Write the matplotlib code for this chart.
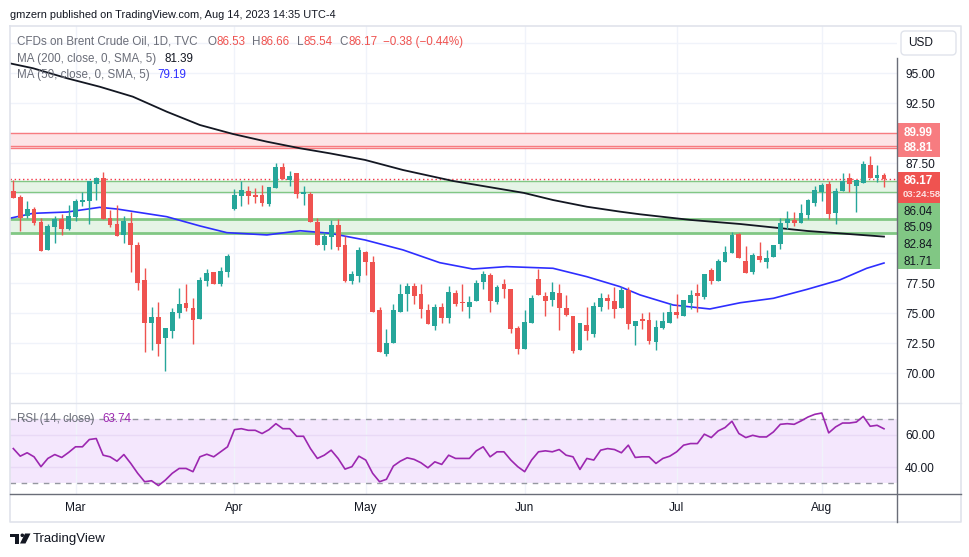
import numpy as np
import matplotlib
matplotlib.use("Agg")
import matplotlib.pyplot as plt
from matplotlib.patches import Rectangle, FancyBboxPatch, Polygon, Circle

plt.rcParams['font.family'] = ['Liberation Sans', 'DejaVu Sans']

W, H = 970, 557

# дневные свечи Brent, 16 фев - 14 авг 2023
opens = [85.17, 84.69, 83.14, 83.67, 82.61, 80.31, 82.22, 82.86, 82.03, 83.06,
         84.31, 84.36, 85.81, 86.25, 82.92, 82.44, 81.56, 82.53, 80.69, 77.75,
         74.22, 74.67, 72.97, 73.56, 75.06, 75.86, 75.44, 74.56, 77.72, 78.44,
         77.47, 78.47, 83.72, 84.81, 85.19, 84.89, 84.86, 84.14, 85.47, 87.19,
         86.14, 86.69, 84.97, 84.92, 82.61, 80.69, 81.39, 82.36, 80.69, 77.69,
         78.14, 80.11, 79.28, 75.28, 71.64, 72.56, 75.08, 76.61, 77.28, 76.61,
         75.28, 73.97, 75.53, 74.61, 76.69, 75.94, 75.53, 76.03, 77.64, 78.19,
         75.94, 77.44, 77.03, 73.78, 72.06, 74.19, 77.86, 76.44, 76.11, 76.69,
         75.44, 74.78, 71.94, 74.03, 73.28, 75.53, 76.28, 76.03, 75.44, 76.94,
         73.94, 74.53, 74.44, 72.64, 73.78, 74.22, 75.11, 74.81, 75.86, 76.69,
         76.36, 78.61, 77.69, 79.28, 80.03, 81.61, 79.36, 78.42, 79.78, 79.28,
         79.69, 80.78, 82.53, 82.78, 82.53, 83.19, 84.19, 85.11, 85.78, 83.36,
         85.19, 86.28, 85.61, 85.86, 87.36, 86.28, 86.53]
highs = [86.14, 84.86, 84.36, 83.83, 82.92, 82.44, 83.11, 83.28, 84.03, 84.53,
         85.08, 86.03, 86.33, 86.78, 83.61, 84.03, 83.11, 83.44, 80.92, 78.78,
         75.53, 75.94, 73.75, 75.42, 77.11, 77.44, 76.25, 78.06, 78.69, 78.44,
         78.86, 79.94, 85.36, 86.06, 85.58, 85.44, 85.69, 85.53, 87.53, 87.53,
         86.86, 86.69, 85.61, 85.14, 82.92, 81.75, 82.81, 82.86, 81.42, 78.56,
         80.50, 80.22, 79.81, 75.53, 73.69, 75.78, 77.44, 77.53, 77.53, 77.44,
         75.78, 75.78, 75.86, 77.28, 76.94, 77.44, 76.44, 77.78, 78.53, 78.36,
         77.36, 77.86, 77.03, 73.94, 75.28, 76.53, 78.69, 76.78, 77.61, 77.44,
         76.53, 74.78, 74.19, 75.53, 75.94, 76.69, 76.61, 77.19, 77.19, 77.19,
         74.36, 75.03, 75.11, 74.44, 75.11, 75.86, 76.61, 76.11, 76.94, 77.44,
         78.28, 78.78, 79.53, 80.61, 81.78, 81.69, 80.61, 80.03, 80.94, 80.28,
         80.69, 82.94, 83.53, 83.44, 84.11, 84.53, 85.61, 85.86, 86.03, 85.44,
         86.69, 86.69, 86.11, 87.69, 88.11, 87.36, 86.66]
lows = [84.64, 81.89, 82.92, 82.39, 80.22, 80.31, 80.89, 81.50, 81.94, 82.72,
        83.97, 82.44, 84.44, 82.86, 82.22, 81.47, 80.86, 78.47, 76.97, 71.81,
        71.94, 71.47, 70.22, 72.97, 74.64, 75.22, 72.47, 74.56, 77.25, 77.47,
        77.31, 78.00, 83.64, 83.97, 84.11, 84.22, 83.97, 83.92, 85.47, 86.22,
        85.64, 84.64, 84.06, 82.61, 80.69, 80.31, 80.36, 80.31, 77.64, 77.44,
        77.64, 78.19, 75.14, 71.81, 71.47, 72.56, 75.08, 75.19, 75.78, 74.61,
        74.11, 73.61, 74.22, 74.19, 75.61, 75.19, 74.61, 76.03, 77.03, 75.11,
        75.78, 76.28, 73.39, 71.64, 72.06, 74.19, 76.53, 74.78, 75.61, 73.61,
        74.78, 71.69, 71.94, 72.78, 73.03, 75.19, 75.36, 74.61, 75.44, 73.69,
        72.36, 73.69, 72.44, 71.97, 73.69, 74.22, 74.64, 74.81, 75.36, 75.11,
        76.19, 77.44, 77.69, 79.28, 80.03, 79.61, 78.33, 78.28, 79.28, 78.78,
        79.69, 80.36, 82.03, 82.28, 82.53, 82.86, 83.94, 84.36, 82.86, 82.44,
        85.19, 85.11, 83.44, 85.86, 86.28, 85.94, 85.54]
closes = [84.64, 82.97, 83.69, 82.56, 80.22, 82.28, 82.89, 82.06, 83.11, 84.36,
          84.44, 86.03, 86.25, 82.86, 82.36, 81.47, 82.69, 80.72, 77.56, 74.22,
          74.67, 72.47, 73.75, 75.11, 75.78, 75.47, 74.47, 77.78, 78.36, 77.47,
          78.53, 79.78, 84.86, 85.28, 84.81, 84.72, 84.22, 85.53, 87.19, 86.22,
          86.44, 84.97, 85.11, 82.61, 80.69, 81.42, 82.36, 80.53, 77.69, 78.28,
          80.28, 79.28, 75.14, 71.81, 72.53, 75.28, 76.61, 77.28, 76.44, 75.36,
          74.11, 75.53, 74.64, 76.78, 75.78, 75.86, 75.94, 77.50, 78.28, 76.03,
          77.19, 77.03, 73.69, 72.06, 74.28, 76.28, 76.53, 76.03, 76.78, 75.44,
          74.86, 71.86, 74.19, 73.53, 75.61, 76.28, 76.03, 75.36, 76.94, 74.11,
          74.36, 74.36, 72.69, 73.83, 74.36, 75.11, 74.89, 76.11, 76.53, 76.44,
          78.28, 77.69, 79.36, 80.11, 81.53, 79.61, 78.39, 79.86, 79.44, 79.61,
          80.69, 82.53, 82.86, 82.53, 83.36, 84.44, 85.28, 85.69, 83.28, 85.19,
          86.03, 85.78, 86.11, 87.44, 86.28, 86.55, 86.17]

rsi = [51.5, 46.8, 48.9, 46.4, 40.3, 45.4, 47.8, 46.0, 49.1, 52.6,
       52.6, 57.1, 57.7, 47.4, 46.4, 43.7, 47.8, 42.3, 36.2, 31.0,
       31.6, 28.6, 32.0, 36.2, 39.2, 39.2, 37.2, 46.4, 48.0, 46.4,
       49.5, 52.6, 63.2, 63.8, 62.8, 62.8, 60.8, 63.2, 66.9, 63.8,
       63.8, 59.1, 59.1, 51.5, 45.4, 47.4, 50.5, 45.4, 38.8, 40.3,
       46.8, 44.4, 36.2, 31.0, 32.5, 40.7, 43.7, 45.8, 44.8, 42.7,
       39.6, 43.3, 41.7, 47.4, 45.4, 45.4, 45.4, 50.1, 52.6, 46.4,
       49.5, 49.5, 44.4, 40.3, 37.2, 44.4, 49.5, 50.1, 49.5, 50.9,
       47.4, 46.4, 38.6, 45.4, 44.4, 50.5, 51.5, 50.9, 48.9, 53.6,
       46.0, 46.4, 46.4, 42.3, 45.4, 46.8, 49.5, 53.6, 54.6, 54.6,
       60.4, 58.3, 62.4, 64.5, 68.4, 60.8, 58.3, 59.7, 58.7, 58.7,
       61.8, 66.5, 66.9, 66.5, 68.6, 71.0, 72.7, 73.5, 61.2, 64.9,
       67.3, 67.3, 67.9, 71.4, 65.3, 65.9, 63.74]

# скользящие средние (позиция свечи, значение)
ma200_pos = [-0.5, 2.85, 7.8, 12.5, 17.3, 22.2, 27, 31.8, 36.7, 41.5, 45.8, 50.9,
             56.4, 63.6, 73.9, 78.1, 83, 87.8, 90.7, 98, 105.2, 114.9, 126]
ma200_val = [95.83, 95.42, 94.58, 93.88, 93.05, 91.8, 90.69, 89.94, 89.3, 88.75, 88.33, 87.78,
             86.94, 86.03, 85.03, 84.44, 83.88, 83.47, 83.25, 82.78, 82.44, 81.86, 81.39]
ma50_pos = [-0.5, 2.85, 7.8, 12.5, 15, 22.2, 27, 30.9, 36.7, 41.5, 45.8, 50.9, 56.4, 61.7,
            66.5, 71.4, 78.1, 83, 87.8, 90.7, 95.5, 100.8, 105.2, 110, 114.9, 119.6, 123.5, 126]
ma50_val = [82.92, 83.33, 83.44, 83.83, 83.69, 83.05, 82.28, 81.72, 81.53, 81.88, 81.67, 81.11,
            80.28, 79.22, 78.69, 78.89, 78.75, 78.05, 77.22, 76.53, 75.69, 75.36, 75.88, 76.25,
            77.0, 77.78, 78.75, 79.19]

month_pos = [9, 32, 51, 74, 96, 117]
month_lbl = ['Mar', 'Apr', 'May', 'Jun', 'Jul', 'Aug']

red_zone = (88.81, 89.99)
green_zones = [(85.09, 86.04), (81.71, 82.84)]
countdown = '03:24:58'

UP, DOWN = '#26a69a', '#ef5350'
GRID = '#f0f3fa'
TXT = '#131722'
GREY = '#6a6d78'
BLUE = '#2e2eff'
PURPLE = '#9c27b0'

n = len(closes)
x = np.arange(n)
o = np.array(opens); c = np.array(closes)
cols = [UP if cc >= oo else DOWN for oo, cc in zip(o, c)]

fig = plt.figure(figsize=(W / 100, H / 100), dpi=100)
fig.patch.set_facecolor('white')


def px_rect(x0, y0, x1, y1):
    return [x0 / W, 1 - y1 / H, (x1 - x0) / W, (y1 - y0) / H]


ax = fig.add_axes(px_rect(10, 26, 896.7, 403.3))
rs = fig.add_axes(px_rect(10, 403.3, 896.7, 494))

# --- основная панель ---
ax.set_xlim(-0.48, 127.84)
ax.set_ylim(67.5, 98.94)
ax.set_xticks(month_pos)
ticks = np.arange(70, 98, 2.5)
ax.set_yticks(ticks)
ax.yaxis.tick_right()
ax.tick_params(axis='x', length=0, labelbottom=False)
ax.tick_params(axis='y', length=0, pad=6, labelsize=8.6, labelcolor=TXT)
ax.grid(True, color=GRID, lw=1)
ax.set_axisbelow(True)
for s in ax.spines.values():
    s.set_visible(False)

# зоны
ax.axhspan(red_zone[0], red_zone[1], color='#fde4e6', lw=0, zorder=1)
for v in red_zone:
    ax.axhline(v, color='#f77c80', lw=1, zorder=1.5)
ax.axhline(red_zone[0] + 0.12, color='#f77c80', lw=1, zorder=1.5)
for k, (lo, hi) in enumerate(green_zones):
    ax.axhspan(lo, hi, color='#e5f4e6', lw=0, zorder=1)
    for v in (lo, hi):
        ax.axhline(v, color='#81c784', lw=1.0 if k == 0 else 2.0, zorder=1.5)

ax.axhline(closes[-1], color='#f23645', lw=1, ls=(0, (1, 2)), zorder=2)

ax.plot(ma200_pos, ma200_val, color='#131722', lw=1.3, zorder=2.5)
ax.plot(ma50_pos, ma50_val, color=BLUE, lw=1.2, zorder=2.5)

# свечи
ax.vlines(x, lows, highs, color=cols, lw=1, zorder=3)
body = np.maximum(np.abs(c - o), 0.07)
ax.bar(x, body, bottom=np.minimum(o, c), width=0.7, color=cols, lw=0, zorder=3.5)

# --- RSI ---
rs.set_xlim(-0.48, 127.84)
rs.set_ylim(23.4, 79.5)
rs.axhspan(30, 70, color='#f4e7fd', lw=0, zorder=0)
for v in (40, 60):
    rs.axhline(v, color='#e9d9f6', lw=1, zorder=0.5)
for v in (30, 70):
    rs.axhline(v, color='#9598a1', lw=1, ls=(0, (4, 4)), zorder=1)
for m in month_pos:
    rs.axvline(m, color=GRID, lw=1, zorder=0.2)
rs.plot(x, rsi, color=PURPLE, lw=1.2, zorder=2)
rs.set_yticks([40, 60])
rs.set_yticklabels(['40.00', '60.00'])
rs.yaxis.tick_right()
rs.set_xticks(month_pos)
rs.set_xticklabels(month_lbl)
rs.tick_params(axis='y', length=0, pad=6, labelsize=8.6, labelcolor=TXT)
rs.tick_params(axis='x', length=0, pad=6, labelsize=8.6, labelcolor=TXT)
for s in rs.spines.values():
    s.set_visible(False)

# --- наложение в пикселях ---
ov = fig.add_axes([0, 0, 1, 1], zorder=10)
ov.set_xlim(0, W)
ov.set_ylim(H, 0)
ov.axis('off')
ov.set_facecolor('none')

FR = '#e0e3eb'
ov.plot([10, 960.7, 960.7, 10, 10], [26, 26, 521.7, 521.7, 26], color=FR, lw=1.2)
ov.plot([10, 960.7], [403.3, 403.3], color=FR, lw=1)
ov.plot([10, 960.7], [494, 494], color='#6a6d78', lw=1)
ov.plot([896.7, 896.7], [58, 521.7], color='#6a6d78', lw=1)


def ppx(p):
    return ov.transData.inverted().transform(ax.transData.transform((0, p)))[1]


BX0, BX1 = 896.7, 939.8
boxes = []  # (верх, низ) плашек справа, в пикселях

# красная зона
y_hi, y_lo = ppx(red_zone[1]), ppx(red_zone[0])
boxes.append((y_hi - 10, y_lo + 9))
for v, yy in zip(red_zone, (y_lo, y_hi)):
    ov.text(904, yy, f'{v:.2f}', color='white', fontsize=8.4, fontweight='bold', va='center')
# текущая цена
yl = ppx(closes[-1])
boxes.append((yl - 7, yl + 23.4))
ov.text(904, yl + 1.5, f'{closes[-1]:.2f}', color='white', fontsize=8.4, fontweight='bold', va='center')
ov.text(902.5, yl + 15.5, countdown, color='#fde2e2', fontsize=6.8, fontweight='bold', va='center')
# зелёные уровни
g_levels = sorted([v for z in green_zones for v in z], reverse=True)
boxes.append((yl + 23.4, yl + 90.1))
for k, v in enumerate(g_levels):
    ov.text(904, yl + 32.4 + 16.7 * k, f'{v:.2f}', color=TXT, fontsize=8.4, va='center')
for (t0, t1), col in zip(boxes, ['#f77c80', '#ef5350', '#81c784']):
    ov.add_patch(Rectangle((BX0, t0), BX1 - BX0, t1 - t0, color=col, lw=0))

# USD
usd = (31, 55)
ov.add_patch(FancyBboxPatch((901, usd[0]), 55, usd[1] - usd[0], boxstyle='round,pad=0,rounding_size=4',
                            fc='white', ec=FR, lw=1))
ov.text(908, 43.5, 'USD', color=TXT, fontsize=8.6, va='center')
boxes.append(usd)

# подписи цены, которые закрыты плашками, не выводим
labels = []
for t in ticks:
    yy = ppx(t)
    hidden = any(t0 - 5 < yy < t1 + 5 for t0, t1 in boxes)
    labels.append('' if hidden else f'{t:.2f}')
ax.set_yticklabels(labels)

ov.text(10, 14.5, 'gmzern published on TradingView.com, Aug 14, 2023 14:35 UTC-4',
        color=TXT, fontsize=7.9, va='center')

fig.canvas.draw()
rend = fig.canvas.get_renderer()


def row(x0, y0, parts, size=8.4):
    for txt, col, gap in parts:
        t = ov.text(x0, y0, txt, color=col, fontsize=size, va='center')
        x0 += t.get_window_extent(renderer=rend).width + gap


chg = closes[-1] - closes[-2]
pct = chg / closes[-2] * 100
row(17, 42, [('CFDs on Brent Crude Oil, 1D, TVC', GREY, 10),
             ('O', GREY, 0), (f'{opens[-1]:.2f}', DOWN, 7),
             ('H', GREY, 0), (f'{highs[-1]:.2f}', DOWN, 7),
             ('L', GREY, 0), (f'{lows[-1]:.2f}', DOWN, 7),
             ('C', GREY, 0), (f'{closes[-1]:.2f}', DOWN, 6),
             (f'{chg:+.2f} ({pct:+.2f}%)'.replace('-', '\u2212'), DOWN, 0)])
row(17, 59, [('MA (200, close, 0, SMA, 5)', GREY, 8), (f'{ma200_val[-1]:.2f}', TXT, 0)])
row(17, 75, [('MA (50, close, 0, SMA, 5)', GREY, 8), (f'{ma50_val[-1]:.2f}', BLUE, 0)])
row(17, 418.7, [('RSI (14, close)', GREY, 8), (f'{rsi[-1]:.2f}', PURPLE, 0)])

# логотип
ov.add_patch(Rectangle((10, 533.5), 9, 3.3, color=TXT, lw=0))
ov.add_patch(Rectangle((15, 533.5), 4, 10, color=TXT, lw=0))
ov.add_patch(Circle((22.3, 535.3), 1.8, color=TXT, lw=0))
ov.add_patch(Polygon([(25, 533.5), (30.5, 533.5), (25.5, 543.5), (20, 543.5)], color=TXT, lw=0))
ov.text(33, 539, 'TradingView', color=TXT, fontsize=9.5, va='center')

fig.savefig('out.png', dpi=100, facecolor='white')
